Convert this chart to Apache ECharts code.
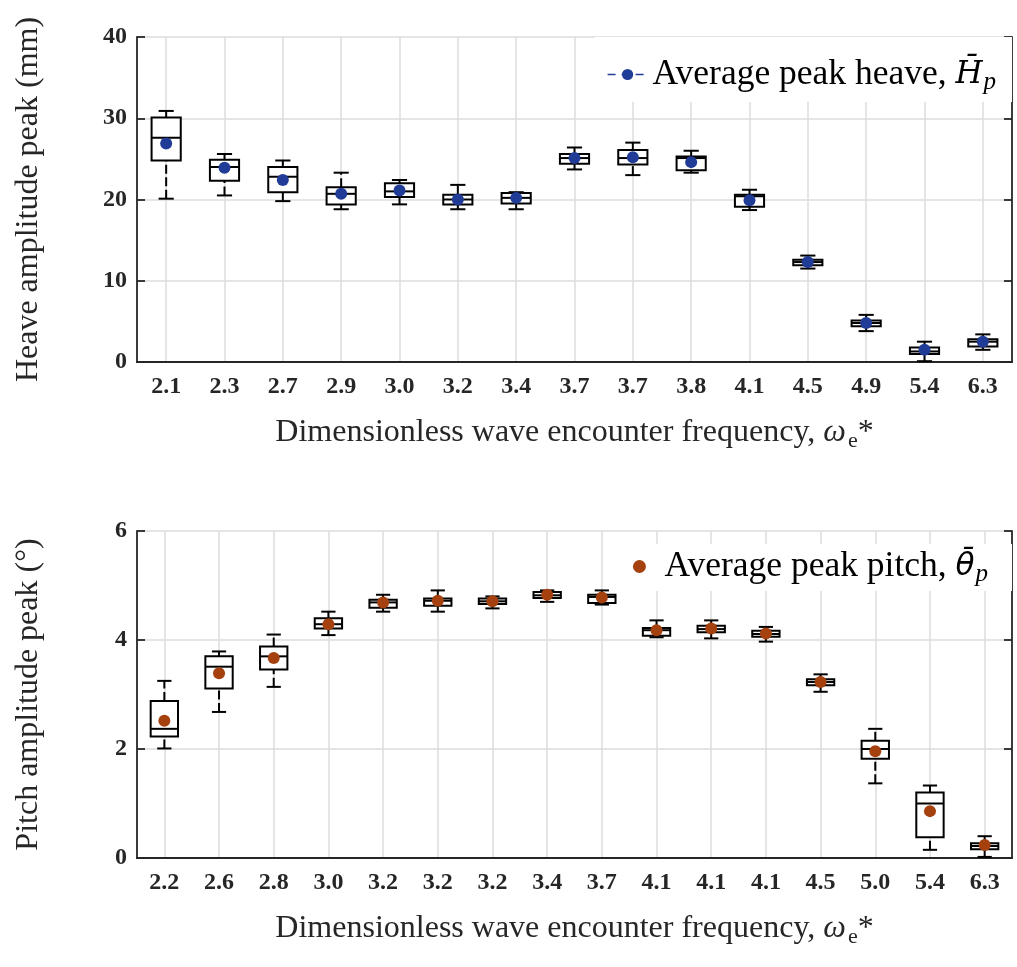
<!DOCTYPE html>
<html><head><meta charset="utf-8">
<script src="https://cdn.jsdelivr.net/npm/echarts@6/dist/echarts.min.js"></script>
<style>html,body{margin:0;padding:0;background:#fff}#c{width:1017px;height:967px}</style>
</head><body><div id="c"></div>
<script>
// ---- Heave (top panel) ----
const heaveLabels = ['2.1','2.3','2.7','2.9','3.0','3.2','3.4','3.7','3.7','3.8','4.1','4.5','4.9','5.4','6.3'];
const heaveMin  = [20.1, 20.5, 19.8, 18.8, 19.4, 18.8, 18.8, 23.7, 23.0, 23.3, 18.7, 11.5, 3.8, 0.1, 1.5];
const heaveQ1   = [24.8, 22.3, 20.9, 19.4, 20.3, 19.4, 19.5, 24.4, 24.3, 23.6, 19.1, 11.9, 4.4, 1.0, 1.9];
const heaveMed  = [27.6, 24.0, 22.8, 20.7, 21.0, 20.0, 20.2, 25.1, 25.1, 25.1, 20.4, 12.3, 4.8, 1.3, 2.5];
const heaveQ3   = [30.1, 24.9, 24.0, 21.5, 22.0, 20.6, 20.8, 25.6, 26.1, 25.3, 20.6, 12.6, 5.1, 1.8, 2.8];
const heaveMax  = [30.9, 25.6, 24.8, 23.3, 22.4, 21.8, 20.9, 26.4, 27.0, 26.0, 21.2, 13.1, 5.8, 2.5, 3.4];
const heaveMean = [26.9, 23.9, 22.4, 20.7, 21.1, 20.0, 20.2, 25.1, 25.2, 24.6, 19.9, 12.3, 4.8, 1.5, 2.5];

// ---- Pitch (bottom panel) ----
const pitchLabels = ['2.2','2.6','2.8','3.0','3.2','3.2','3.2','3.4','3.7','4.1','4.1','4.1','4.5','5.0','5.4','6.3'];
const pitchMin  = [2.01, 2.68, 3.14, 4.09, 4.52, 4.52, 4.58, 4.70, 4.65, 4.05, 4.03, 3.97, 3.05, 1.37, 0.15, 0.02];
const pitchQ1   = [2.23, 3.11, 3.46, 4.21, 4.59, 4.63, 4.66, 4.77, 4.68, 4.08, 4.14, 4.06, 3.17, 1.82, 0.38, 0.16];
const pitchMed  = [2.37, 3.51, 3.70, 4.29, 4.69, 4.72, 4.71, 4.82, 4.79, 4.18, 4.20, 4.11, 3.23, 2.00, 1.00, 0.22];
const pitchQ3   = [2.88, 3.70, 3.88, 4.40, 4.74, 4.76, 4.76, 4.88, 4.83, 4.22, 4.26, 4.17, 3.28, 2.15, 1.20, 0.27];
const pitchMax  = [3.25, 3.79, 4.10, 4.52, 4.83, 4.91, 4.80, 4.91, 4.91, 4.36, 4.36, 4.24, 3.37, 2.37, 1.33, 0.40];
const pitchMean = [2.52, 3.39, 3.67, 4.29, 4.69, 4.72, 4.71, 4.83, 4.78, 4.18, 4.21, 4.12, 3.23, 1.96, 0.86, 0.24];

const SERIF = 'Liberation Serif';
const AX = '#262626';
const BLUE = '#203c96';
const RUST = '#a5400f';

const chart = echarts.init(document.getElementById('c'), null, {renderer: 'canvas'});

function boxItem(params, api) {
  const x = api.value(0);
  const pMin = api.coord([x, api.value(1)]);
  const pQ1 = api.coord([x, api.value(2)]);
  const pMed = api.coord([x, api.value(3)]);
  const pQ3 = api.coord([x, api.value(4)]);
  const pMax = api.coord([x, api.value(5)]);
  const band = api.size([1, 0])[0];
  const bw = band * 0.5, cw = band * 0.26;
  const cx = pMed[0];
  const solid = {stroke: '#000', lineWidth: 2, fill: null};
  const dash = {stroke: '#000', lineWidth: 2, lineDash: [9, 3.5], fill: null};
  return {type: 'group', children: [
    {type: 'line', shape: {x1: cx, y1: pMin[1], x2: cx, y2: pQ1[1]}, style: dash},
    {type: 'line', shape: {x1: cx, y1: pQ3[1], x2: cx, y2: pMax[1]}, style: dash},
    {type: 'line', shape: {x1: cx - cw / 2, y1: pMin[1], x2: cx + cw / 2, y2: pMin[1]}, style: solid},
    {type: 'line', shape: {x1: cx - cw / 2, y1: pMax[1], x2: cx + cw / 2, y2: pMax[1]}, style: solid},
    {type: 'rect', shape: {x: cx - bw / 2, y: pQ3[1], width: bw, height: pQ1[1] - pQ3[1]}, style: {fill: '#fff', stroke: '#000', lineWidth: 2}},
    {type: 'line', shape: {x1: cx - bw / 2, y1: pMed[1], x2: cx + bw / 2, y2: pMed[1]}, style: solid}
  ]};
}

function mainX(gi, labels) {
  return {
    type: 'category', gridIndex: gi, data: labels, position: 'bottom', boundaryGap: true,
    axisLine: {lineStyle: {color: AX, width: 1.8}},
    axisTick: {inside: true, alignWithLabel: true, length: 8, lineStyle: {color: AX, width: 1.8}},
    axisLabel: {interval: 0, fontFamily: SERIF, fontWeight: 'bold', fontSize: 24, color: AX, margin: 13},
    splitLine: {show: true, alignWithLabel: true, lineStyle: {color: '#dcdcdc', width: 1.5}},
    name: 'Dimensionless wave encounter frequency, {w|ω}{e|e}{s|*}',
    nameLocation: 'middle', nameGap: 52,
    nameTextStyle: {fontFamily: SERIF, fontSize: 32, lineHeight: 38, color: AX,
      rich: {
        w: {fontFamily: SERIF, fontSize: 32, lineHeight: 38, fontStyle: 'italic', color: AX},
        e: {fontFamily: SERIF, fontSize: 22, lineHeight: 22, color: AX, padding: [16, 0, 0, 2]},
        s: {fontFamily: SERIF, fontSize: 32, lineHeight: 38, color: AX}
      }}
  };
}
function topX(gi, labels) {
  return {
    type: 'category', gridIndex: gi, data: labels, position: 'top', boundaryGap: true,
    axisLine: {lineStyle: {color: AX, width: 1.8}},
    axisTick: {inside: true, alignWithLabel: true, length: 8, lineStyle: {color: AX, width: 1.8}},
    axisLabel: {show: false}, splitLine: {show: false}
  };
}
function mainY(gi, max, interval, name) {
  return {
    type: 'value', gridIndex: gi, min: 0, max: max, interval: interval, position: 'left',
    axisLine: {show: true, lineStyle: {color: AX, width: 1.8}},
    axisTick: {show: true, inside: true, length: 8, lineStyle: {color: AX, width: 1.8}},
    axisLabel: {fontFamily: SERIF, fontWeight: 'bold', fontSize: 24, color: AX, margin: 10},
    splitLine: {show: true, lineStyle: {color: '#dcdcdc', width: 1.5}},
    name: name, nameLocation: 'middle', nameGap: 90, nameRotate: 90,
    nameTextStyle: {fontFamily: SERIF, fontSize: 32, lineHeight: 36, color: AX}
  };
}
function rightY(gi, max, interval) {
  return {
    type: 'value', gridIndex: gi, min: 0, max: max, interval: interval, position: 'right',
    axisLine: {show: true, lineStyle: {color: AX, width: 1.8}},
    axisTick: {show: true, inside: true, length: 8, lineStyle: {color: AX, width: 1.8}},
    axisLabel: {show: false}, splitLine: {show: false}
  };
}

const heaveName = 'Average peak heave';
const pitchName = 'Average peak pitch';

const legendRich = {
  h: {fontFamily: 'DejaVu Serif', fontSize: 31, lineHeight: 40, fontStyle: 'italic', color: '#000'},
  t: {fontFamily: 'DejaVu Sans', fontSize: 31, lineHeight: 40, fontStyle: 'italic', color: '#000'},
  p: {fontFamily: SERIF, fontSize: 25, lineHeight: 24, fontStyle: 'italic', color: '#000', padding: [16, 0, 0, 1]}
};

const option = {
  animation: false,
  backgroundColor: '#fff',
  grid: [
    {left: 137, right: 5, top: 37, height: 325},
    {left: 137, right: 5, top: 531, height: 327}
  ],
  xAxis: [mainX(0, heaveLabels), topX(0, heaveLabels), mainX(1, pitchLabels), topX(1, pitchLabels)],
  yAxis: [
    mainY(0, 40, 10, 'Heave amplitude peak (mm)'), rightY(0, 40, 10),
    mainY(1, 6, 2, 'Pitch amplitude peak (°)'), rightY(1, 6, 2)
  ],
  legend: [
    {
      data: [heaveName], right: 5, top: 37, orient: 'horizontal',
      backgroundColor: '#fff', padding: [17, 16, 7, 12],
      itemWidth: 40, itemHeight: 14,
      lineStyle: {width: 1.5, type: [8, 6], color: BLUE, opacity: 1},
      formatter: function () { return 'Average peak heave, {h|H\u0304}{p|p}'; },
      textStyle: {fontFamily: SERIF, fontSize: 35.5, color: '#000', lineHeight: 40, rich: legendRich}
    },
    {
      data: [pitchName], right: 5, top: 544, orient: 'horizontal',
      backgroundColor: '#fff', padding: [2, 24, 4, 6],
      itemWidth: 40, itemHeight: 13,
      formatter: function () { return 'Average peak pitch, {t|θ\u0304}{p|p}'; },
      textStyle: {fontFamily: SERIF, fontSize: 35.5, color: '#000', lineHeight: 40, rich: legendRich}
    }
  ],
  series: [
    {
      type: 'custom', name: 'heaveBox', xAxisIndex: 0, yAxisIndex: 0, z: 3,
      renderItem: boxItem, encode: {x: 0, y: [1, 2, 3, 4, 5]},
      data: heaveLabels.map((_, i) => [i, heaveMin[i], heaveQ1[i], heaveMed[i], heaveQ3[i], heaveMax[i]]),
      silent: true
    },
    {
      type: 'line', name: heaveName, xAxisIndex: 0, yAxisIndex: 0, z: 10,
      symbol: 'circle', symbolSize: 12, showSymbol: true, showAllSymbol: true,
      itemStyle: {color: BLUE}, lineStyle: {width: 0, color: BLUE},
      data: heaveMean.map((v, i) => [i, v]), silent: true
    },
    {
      type: 'custom', name: 'pitchBox', xAxisIndex: 2, yAxisIndex: 2, z: 3,
      renderItem: boxItem, encode: {x: 0, y: [1, 2, 3, 4, 5]},
      data: pitchLabels.map((_, i) => [i, pitchMin[i], pitchQ1[i], pitchMed[i], pitchQ3[i], pitchMax[i]]),
      silent: true
    },
    {
      type: 'scatter', name: pitchName, xAxisIndex: 2, yAxisIndex: 2, z: 10,
      symbol: 'circle', symbolSize: 12, itemStyle: {color: RUST, opacity: 1},
      data: pitchMean.map((v, i) => [i, v]), silent: true
    }
  ]
};
chart.setOption(option);
</script>
</body></html>
